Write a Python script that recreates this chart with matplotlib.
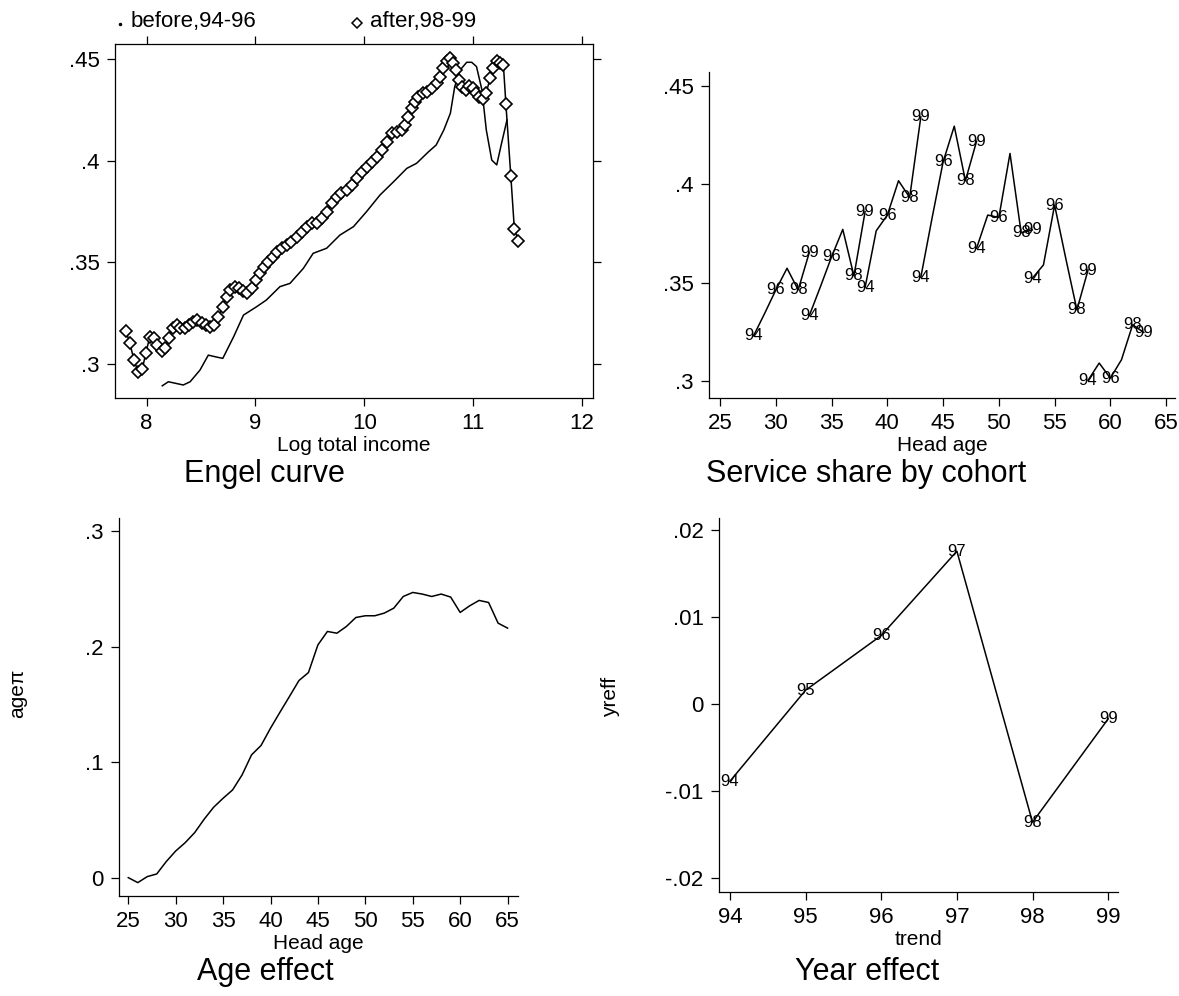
import matplotlib
matplotlib.use("Agg")
import matplotlib.pyplot as plt
from matplotlib.lines import Line2D

plt.rcParams['font.family'] = ['Liberation Sans', 'DejaVu Sans']

# ---------------- data ----------------
# Engel curve: before (94-96) smooth line
before_x = [8.144, 8.2, 8.337, 8.40, 8.49, 8.567, 8.63, 8.70, 8.80, 8.89, 9.01, 9.10,
            9.225, 9.317, 9.44, 9.53, 9.654, 9.776, 9.90, 10.02, 10.144, 10.27, 10.39,
            10.48, 10.59, 10.66, 10.73, 10.79, 10.83, 10.88, 10.94, 10.986, 11.03,
            11.08, 11.12, 11.17, 11.216, 11.26, 11.31]
before_y = [0.2893, 0.2913, 0.2897, 0.2913, 0.297, 0.3044, 0.3036, 0.3028, 0.3135,
            0.3241, 0.3282, 0.3315, 0.3381, 0.3397, 0.3471, 0.3545, 0.357, 0.3635,
            0.3676, 0.375, 0.3832, 0.3898, 0.3963, 0.3988, 0.4045, 0.4078, 0.4152,
            0.4234, 0.4365, 0.4447, 0.4485, 0.4485, 0.4464, 0.4349, 0.4152, 0.4004,
            0.398, 0.4086, 0.4201]
# Engel curve: after (98-99) with diamonds
after_x = [7.81, 7.847, 7.884, 7.923, 7.96, 7.994, 8.03, 8.067, 8.098, 8.138, 8.168,
           8.205, 8.24, 8.276, 8.31, 8.352, 8.39, 8.43, 8.466, 8.505, 8.545, 8.58,
           8.62, 8.66, 8.70, 8.735, 8.77, 8.81, 8.85, 8.888, 8.925, 8.965, 9.005,
           9.04, 9.08, 9.118, 9.158, 9.194, 9.24, 9.286, 9.33, 9.378, 9.424, 9.47,
           9.516, 9.562, 9.608, 9.654, 9.70, 9.746, 9.79, 9.838, 9.884, 9.93, 9.976,
           10.02, 10.067, 10.113, 10.16, 10.205, 10.25, 10.297, 10.343, 10.374,
           10.404, 10.435, 10.466, 10.496, 10.536, 10.573, 10.62, 10.665, 10.695,
           10.726, 10.757, 10.787, 10.818, 10.842, 10.87, 10.90, 10.93, 10.965,
           10.995, 11.026, 11.057, 11.087, 11.118, 11.155, 11.185, 11.216, 11.247,
           11.277, 11.30, 11.345, 11.378, 11.415]
after_y = [0.3163, 0.3102, 0.302, 0.2962, 0.2974, 0.3056, 0.3135, 0.3126, 0.3094,
           0.3066, 0.3077, 0.3126, 0.3176, 0.3192, 0.3179, 0.3176, 0.3192, 0.3209,
           0.3217, 0.3204, 0.3192, 0.3184, 0.3192, 0.323, 0.3282, 0.3332, 0.3364,
           0.338, 0.3373, 0.3359, 0.3348, 0.3373, 0.3414, 0.3446, 0.3476, 0.3504,
           0.3528, 0.3553, 0.357, 0.3586, 0.3602, 0.3624, 0.3652, 0.3676, 0.3693,
           0.3693, 0.3717, 0.375, 0.3791, 0.3824, 0.384, 0.3857, 0.3881, 0.3914,
           0.3947, 0.3972, 0.3996, 0.4021, 0.4054, 0.4095, 0.4136, 0.4144, 0.4152,
           0.4177, 0.4214, 0.4259, 0.4292, 0.4316, 0.4333, 0.4341, 0.4357, 0.4382,
           0.4415, 0.4456, 0.4489, 0.4505, 0.448, 0.4447, 0.4398, 0.4365, 0.4349,
           0.4369, 0.4357, 0.4336, 0.4316, 0.4303, 0.4333, 0.4406, 0.4456, 0.4489,
           0.448, 0.4472, 0.428, 0.3927, 0.3663, 0.3606]

# Service share by cohort
survey_years = [94, 95, 96, 97, 98, 99]
labelled_years = [94, 96, 98, 99]
cohort_start_age = [28, 33, 38, 43, 48, 53, 58]
cohort_a = [0.3229, 0.3344, 0.3463, 0.3573, 0.3463, 0.3654]
cohort_b = [0.3332, 0.3480, 0.3632, 0.3771, 0.3534, 0.3861]
cohort_c = [0.3475, 0.3764, 0.3844, 0.4019, 0.3934, 0.4344]
cohort_d = [0.3527, 0.3826, 0.4115, 0.4297, 0.4019, 0.4220]
cohort_e = [0.3675, 0.3844, 0.3832, 0.4158, 0.3754, 0.3768]
cohort_f = [0.3522, 0.3590, 0.3895, 0.3624, 0.3361, 0.3564]
cohort_g = [0.3002, 0.3090, 0.3013, 0.3107, 0.3285, 0.3246]
cohort_shares = [cohort_a, cohort_b, cohort_c, cohort_d, cohort_e, cohort_f, cohort_g]

# Age effect
ages = list(range(25, 66))
age_effect = [0.0, -0.0043, 0.0009, 0.0032, 0.0139, 0.0231, 0.0303, 0.039, 0.0506,
              0.061, 0.0688, 0.076, 0.089, 0.1064, 0.1145, 0.1295, 0.1434, 0.157,
              0.1708, 0.1777, 0.2017, 0.2133, 0.2118, 0.2176, 0.2254, 0.2269, 0.2269,
              0.2292, 0.2335, 0.2436, 0.2471, 0.2457, 0.2436, 0.2457, 0.2431, 0.2298,
              0.2355, 0.2402, 0.2384, 0.2205, 0.2162]

# Year effect
trend = [94, 95, 96, 97, 98, 99]
year_effect = [-0.00888, 0.00157, 0.00785, 0.01753, -0.01359, -0.00172]

# tick labels
engel_yticks = [0.3, 0.35, 0.4, 0.45]
engel_yticklabels = ['.3', '.35', '.4', '.45']
engel_xticks = [8, 9, 10, 11, 12]
age_xticks = [25, 30, 35, 40, 45, 50, 55, 60, 65]
age_yticks = [0, 0.1, 0.2, 0.3]
age_yticklabels = ['0', '.1', '.2', '.3']
year_yticks = [-0.02, -0.01, 0, 0.01, 0.02]
year_yticklabels = ['-.02', '-.01', '0', '.01', '.02']

# ---------------- figure ----------------
W, H = 1179, 996
fig = plt.figure(figsize=(W / 100, H / 100), dpi=100)


def px_axes(l, t, r, b):
    return fig.add_axes([l / W, 1 - b / H, (r - l) / W, (b - t) / H])


TICK = 16
LAB = 15
TITLE = 22
LW = 1.1
MLAB = 12


def style(ax):
    for s in ax.spines.values():
        s.set_linewidth(0.9)
    ax.tick_params(direction='out', length=6, width=0.9, labelsize=TICK, pad=5)


# Top-left: Engel curve
ax1 = px_axes(115, 44, 593, 398)
ax1.plot(before_x, before_y, color='black', lw=LW)
ax1.plot(after_x, after_y, color='black', lw=LW, marker='D', ms=6.3,
         mfc='white', mec='black', mew=1.2)
ax1.set_xlim(7.71, 12.1)
ax1.set_ylim(0.2833, 0.4575)
ax1.set_xticks(engel_xticks)
ax1.set_yticks(engel_yticks)
ax1.set_yticklabels(engel_yticklabels)
style(ax1)
ax1.tick_params(top=True, right=True, labeltop=False, labelright=False)
ax1.set_xlabel('Log total income', fontsize=LAB, labelpad=1)

# legend above top-left panel
fig.add_artist(Line2D([120 / W], [1 - 24 / H], marker='o', ms=1.5, color='black',
                      transform=fig.transFigure))
fig.text(131 / W, 1 - 21 / H, 'before,94-96', fontsize=TICK, ha='left', va='center')
fig.add_artist(Line2D([357 / W], [1 - 23 / H], marker='D', ms=5, mfc='white',
                      mec='black', mew=1.1, color='black', transform=fig.transFigure))
fig.text(370 / W, 1 - 21 / H, 'after,98-99', fontsize=TICK, ha='left', va='center')

# Top-right: Service share by cohort
ax2 = px_axes(709, 72, 1175, 398)
for start, shares in zip(cohort_start_age, cohort_shares):
    a = [start + (y - survey_years[0]) for y in survey_years]
    ax2.plot(a, shares, color='black', lw=LW)
    for ag, yr, v in zip(a, survey_years, shares):
        if yr in labelled_years:
            ax2.text(ag, v, str(yr), fontsize=MLAB, ha='center', va='center')
ax2.set_xlim(24, 65.8)
ax2.set_ylim(0.2912, 0.4573)
ax2.set_xticks(age_xticks)
ax2.set_yticks(engel_yticks)
ax2.set_yticklabels(engel_yticklabels)
ax2.spines['top'].set_visible(False)
ax2.spines['right'].set_visible(False)
style(ax2)
ax2.set_xlabel('Head age', fontsize=LAB, labelpad=1)

# Bottom-left: Age effect
ax3 = px_axes(119, 518, 518, 896)
ax3.plot(ages, age_effect, color='black', lw=LW)
ax3.set_xlim(24.02, 66.1)
ax3.set_ylim(-0.0159, 0.3116)
ax3.set_xticks(age_xticks)
ax3.set_yticks(age_yticks)
ax3.set_yticklabels(age_yticklabels)
ax3.spines['top'].set_visible(False)
ax3.spines['right'].set_visible(False)
style(ax3)
ax3.set_xlabel('Head age', fontsize=LAB, labelpad=1)

# Bottom-right: Year effect
ax4 = px_axes(719, 518, 1118, 892)
ax4.plot(trend, year_effect, color='black', lw=LW)
for t, v in zip(trend, year_effect):
    ax4.text(t, v, str(t), fontsize=MLAB, ha='center', va='center')
ax4.set_xlim(93.855, 99.13)
ax4.set_ylim(-0.0216, 0.02134)
ax4.set_xticks(trend)
ax4.set_yticks(year_yticks)
ax4.set_yticklabels(year_yticklabels)
ax4.spines['top'].set_visible(False)
ax4.spines['right'].set_visible(False)
style(ax4)
ax4.set_xlabel('trend', fontsize=LAB, labelpad=1)

# y labels placed far left
fig.text(18 / W, 1 - 693 / H, 'ageπ', rotation=90, fontsize=LAB, ha='center', va='center')
fig.text(611 / W, 1 - 697 / H, 'yreff', rotation=90, fontsize=LAB, ha='center', va='center')

# panel titles
fig.text(264 / W, 1 - 474 / H, 'Engel curve', fontsize=TITLE, ha='center', va='center')
fig.text(866 / W, 1 - 474 / H, 'Service share by cohort', fontsize=TITLE, ha='center', va='center')
fig.text(265 / W, 1 - 972 / H, 'Age effect', fontsize=TITLE, ha='center', va='center')
fig.text(867 / W, 1 - 972 / H, 'Year effect', fontsize=TITLE, ha='center', va='center')

fig.savefig('out.png', dpi=100)
